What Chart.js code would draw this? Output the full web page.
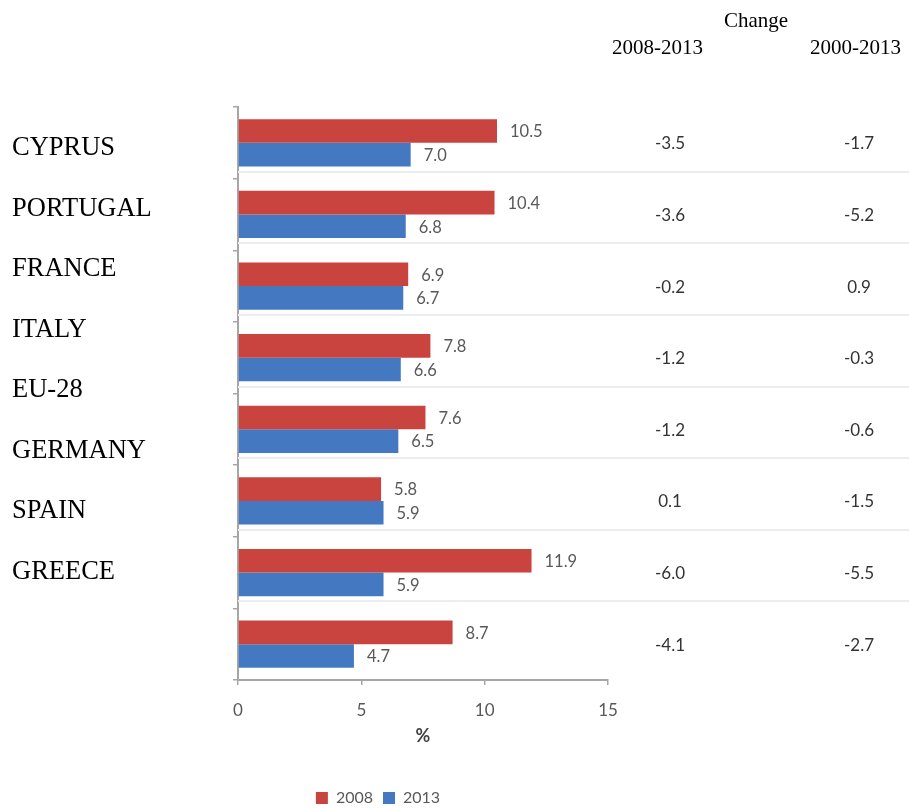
<!DOCTYPE html>
<html>
<head>
<meta charset="utf-8">
<script src="https://cdn.jsdelivr.net/npm/chart.js@4/dist/chart.umd.min.js"></script>
<style>
  html, body { margin: 0; padding: 0; background: #fff; }
  #page { position: relative; width: 909px; height: 808px; overflow: hidden; }
  #wrap { position: absolute; left: 0; top: 0; width: 909px; height: 808px; }
  .serif { position: absolute; font-family: "Liberation Serif", "Times New Roman", serif; color: #000; white-space: nowrap; }
  #labels { position: absolute; left: 12px; top: 116px; font-size: 26.5px; line-height: 60.5px; }
  .hdr { font-size: 21px; line-height: 21px; }
</style>
</head>
<body>
<div id="page">
  <div id="wrap"><canvas id="chart"></canvas></div>
  <div id="labels" class="serif"></div>
  <div class="serif hdr" style="left:724px; top:10px;">Change</div>
  <div class="serif hdr" style="left:612px; top:37px;">2008-2013</div>
  <div class="serif hdr" style="left:810px; top:37px;">2000-2013</div>
</div>
<script>
const categories = ['CYPRUS', 'PORTUGAL', 'FRANCE', 'ITALY', 'EU-28', 'GERMANY', 'SPAIN', 'GREECE'];
const values2008 = [10.5, 10.4, 6.9, 7.8, 7.6, 5.8, 11.9, 8.7];
const values2013 = [7.0, 6.8, 6.7, 6.6, 6.5, 5.9, 5.9, 4.7];
const change2008to2013 = ['-3.5', '-3.6', '-0.2', '-1.2', '-1.2', '0.1', '-6.0', '-4.1'];
const change2000to2013 = ['-1.7', '-5.2', '0.9', '-0.3', '-0.6', '-1.5', '-5.5', '-2.7'];
const xTicks = [0, 5, 10, 15];

// country names on the left (separate column, like the original)
const labelBox = document.getElementById('labels');
categories.forEach(c => {
    const d = document.createElement('div');
    d.textContent = c;
    labelBox.appendChild(d);
});

const axisGray = '#a6a6a6';
const textGray = '#595959';

// value labels, change columns and row separators
const extras = {
    id: 'extras',
    beforeDatasetsDraw(chart) {
        const ctx = chart.ctx;
        const y = chart.scales.y;
        const x0 = chart.scales.x.getPixelForValue(0);
        ctx.save();
        ctx.strokeStyle = '#ededed';
        ctx.lineWidth = 2;
        for (let i = 0; i < categories.length - 1; i++) {
            const yy = Math.round(y.getPixelForValue(i + 0.5)) - 7;
            ctx.beginPath();
            ctx.moveTo(x0, yy);
            ctx.lineTo(chart.width, yy);
            ctx.stroke();
        }
        ctx.restore();
    },
    afterDatasetsDraw(chart) {
        const ctx = chart.ctx;
        ctx.save();
        ctx.font = '16.5px Lato';
        ctx.fillStyle = textGray;
        ctx.textBaseline = 'middle';
        ctx.textAlign = 'left';
        chart.data.datasets.forEach((ds, di) => {
            chart.getDatasetMeta(di).data.forEach((bar, i) => {
                ctx.fillText(ds.data[i].toFixed(1), bar.x + 13, bar.y + 1);
            });
        });
        const y = chart.scales.y;
        const right = chart.chartArea.right;
        ctx.font = '17px Lato';
        ctx.fillStyle = '#333';
        ctx.textAlign = 'center';
        categories.forEach((c, i) => {
            const yy = y.getPixelForValue(i) + 1;
            ctx.fillText(change2008to2013[i], right + 62, yy);
            ctx.fillText(change2000to2013[i], right + 251, yy);
        });
        ctx.restore();
    }
};

Chart.defaults.font.family = 'Lato';
Chart.defaults.color = textGray;

new Chart(document.getElementById('chart').getContext('2d'), {
    type: 'bar',
    data: {
        labels: categories,
        datasets: [{
            label: '2008',
            data: values2008,
            backgroundColor: '#c9433f'
        }, {
            label: '2013',
            data: values2013,
            backgroundColor: '#4479c2'
        }]
    },
    options: {
        indexAxis: 'y',
        responsive: true,
        maintainAspectRatio: false,
        animation: false,
        categoryPercentage: 0.66,
        barPercentage: 1.0,
        layout: { padding: { top: 107, left: 148, right: 301, bottom: -8 } },
        scales: {
            x: {
                min: 0,
                max: 15,
                afterBuildTicks: s => { s.ticks = xTicks.map(v => ({ value: v })); },
                afterFit: s => { s.height = 100; },
                grid: { drawOnChartArea: false, tickLength: 5, color: axisGray, lineWidth: 1.5 },
                border: { color: axisGray, width: 2 },
                ticks: { font: { size: 17 }, color: textGray, padding: 15 },
                title: { display: true, text: '%', font: { size: 18, weight: 'bold' }, color: '#404040', padding: { top: 0, bottom: 33 } }
            },
            y: {
                afterFit: s => { s.width = 90; },
                grid: { drawOnChartArea: false, offset: true, tickLength: 5, color: axisGray, lineWidth: 1.5 },
                border: { color: axisGray, width: 2 },
                ticks: { display: false }
            }
        },
        plugins: {
            legend: {
                position: 'bottom',
                labels: {
                    boxWidth: 12,
                    boxHeight: 12,
                    padding: 10,
                    font: { size: 16 },
                    color: textGray
                }
            },
            tooltip: { enabled: false }
        }
    },
    plugins: [extras]
});
</script>
</body>
</html>
